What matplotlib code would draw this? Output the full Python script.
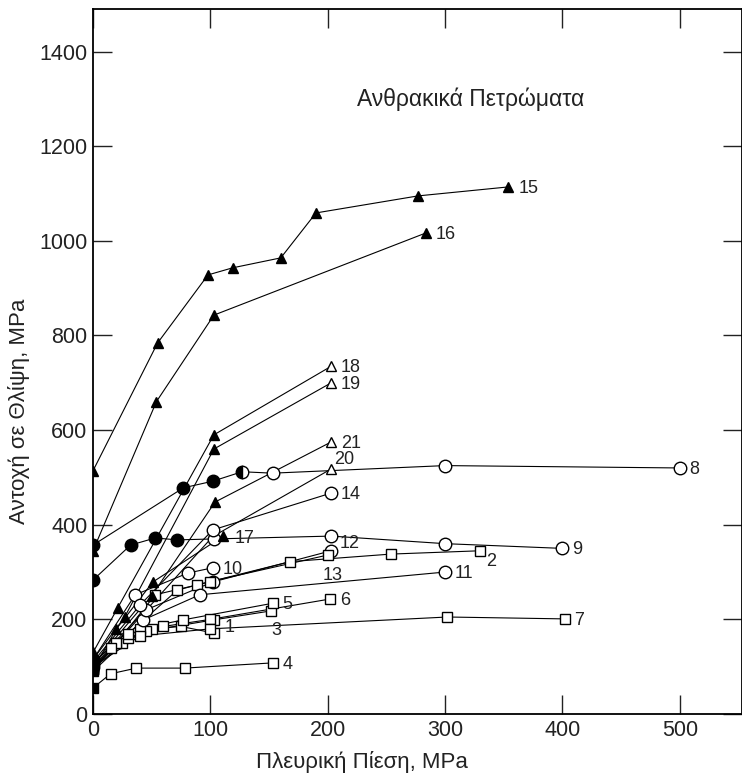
import matplotlib
matplotlib.use("Agg")
import matplotlib.pyplot as plt

plt.rcParams['font.family'] = ['Liberation Sans', 'DejaVu Sans']

# series: label, marker, x (lateral pressure), y (strength), fill code per point
# fill codes: f = filled, o = open, h = half, n = no marker
s1_x = [0, 25, 50, 75, 103]
s1_y = [95, 150, 180, 185, 171]
s2_x = [0, 20, 53, 89, 168, 254, 330]
s2_y = [110, 150, 252, 273, 322, 338, 345]
s3_x = [0, 20, 45, 103, 152]
s3_y = [95, 150, 175, 199, 218]
s4_x = [0, 15, 37, 78, 153]
s4_y = [55, 85, 97, 97, 108]
s5_x = [0, 15, 40, 77, 153]
s5_y = [100, 140, 180, 199, 234]
s6_x = [0, 30, 60, 100, 202]
s6_y = [90, 160, 185, 200, 243]
s7_x = [0, 40, 100, 302, 402]
s7_y = [100, 165, 180, 205, 201]
s8_x = [0, 77, 102, 127, 153, 300, 500]
s8_y = [357, 478, 492, 512, 509, 525, 520]
s9_x = [0, 32, 53, 72, 103, 203, 300, 400]
s9_y = [283, 357, 372, 368, 370, 376, 360, 350]
s10_x = [0, 36, 81, 102]
s10_y = [115, 252, 298, 309]
s11_x = [0, 43, 91, 300]
s11_y = [100, 199, 252, 300]
s12_x = [0, 45, 102, 203]
s12_y = [105, 220, 279, 345]
s13_x = [0, 30, 72, 100, 200]
s13_y = [95, 170, 262, 280, 336]
s14_x = [0, 40, 102, 203]
s14_y = [110, 230, 389, 467]
s15_x = [0, 55, 98, 119, 160, 190, 277, 354]
s15_y = [514, 784, 928, 943, 964, 1059, 1095, 1114]
s16_x = [0, 54, 103, 284]
s16_y = [345, 660, 843, 1017]
s17_x = [0, 20, 51, 111]
s17_y = [95, 180, 279, 376]
s18_x = [0, 21, 103, 203]
s18_y = [130, 224, 590, 735]
s19_x = [0, 27, 103, 203]
s19_y = [115, 205, 560, 700]
s20_x = [0, 102, 203]
s20_y = [95, 375, 518]
s21_x = [0, 50, 104, 203]
s21_y = [105, 250, 448, 575]

series = [
    ('1', 's', s1_x, s1_y, 'foooo'),
    ('2', 's', s2_x, s2_y, 'ffooooo'),
    ('3', 's', s3_x, s3_y, 'foooo'),
    ('4', 's', s4_x, s4_y, 'foooo'),
    ('5', 's', s5_x, s5_y, 'foooo'),
    ('6', 's', s6_x, s6_y, 'foooo'),
    ('7', 's', s7_x, s7_y, 'foooo'),
    ('8', 'o', s8_x, s8_y, 'fffhooo'),
    ('9', 'o', s9_x, s9_y, 'ffffoooo'),
    ('10', 'o', s10_x, s10_y, 'fooo'),
    ('11', 'o', s11_x, s11_y, 'fooo'),
    ('12', 'o', s12_x, s12_y, 'fooo'),
    ('13', 's', s13_x, s13_y, 'foooo'),
    ('14', 'o', s14_x, s14_y, 'fooo'),
    ('15', '^', s15_x, s15_y, 'ffffffff'),
    ('16', '^', s16_x, s16_y, 'ffff'),
    ('17', '^', s17_x, s17_y, 'ffff'),
    ('18', '^', s18_x, s18_y, 'fffo'),
    ('19', '^', s19_x, s19_y, 'fffo'),
    ('20', '^', s20_x, s20_y, 'fno'),
    ('21', '^', s21_x, s21_y, 'fffo'),
]

# label offsets (points) from the last point of each curve
label_off = {'1': (8, 4), '2': (4, -8), '3': (0, -14), '13': (-4, -15),
             '20': (2, 7), '12': (6, 5), '17': (8, -2)}

msize = {'s': 7, 'o': 9, '^': 7}

fig = plt.figure(figsize=(7.42, 7.80), dpi=100)
ax = fig.add_axes([93 / 742, 66 / 780, 649 / 742, 705 / 780])

for name, mk, xs, ys, fills in series:
    ax.plot(xs, ys, color='black', lw=0.8, zorder=2)
    for x, y, f in zip(xs, ys, fills):
        if f == 'n':
            continue
        if f == 'h':
            ax.plot(x, y, marker=mk, ms=msize[mk], color='black', mfc='black',
                    mfcalt='white', fillstyle='left', mew=1.0, zorder=3)
        else:
            ax.plot(x, y, marker=mk, ms=msize[mk], color='black',
                    mfc='black' if f == 'f' else 'white', mew=1.0, zorder=3)
    dx, dy = label_off.get(name, (7, -1))
    ax.annotate(name, (xs[-1], ys[-1]), xytext=(dx, dy), textcoords='offset points',
                fontsize=13, va='center', ha='left', color='#222222')

ax.text(322, 1300, 'Ανθρακικά Πετρώματα', fontsize=16.5, ha='center', va='center',
        color='#222222')

ax.set_xlim(0, 553)
ax.set_ylim(0, 1490)
ax.set_xticks([0, 100, 200, 300, 400, 500])
ax.set_yticks([0, 200, 400, 600, 800, 1000, 1200, 1400])
ax.tick_params(direction='in', length=14, width=1.0, top=True, right=True,
               labelsize=15.5, pad=4, colors='#222222')
for sp in ax.spines.values():
    sp.set_linewidth(1.3)

ax.set_xlabel('Πλευρική Πίεση, MPa', fontsize=16, color='#222222')
ax.xaxis.set_label_coords(0.414, -0.052)
ax.set_ylabel('Αντοχή σε Θλίψη, MPa', fontsize=16, color='#222222')
ax.yaxis.set_label_coords(-0.097, 0.43)

fig.savefig('out.png', dpi=100)
